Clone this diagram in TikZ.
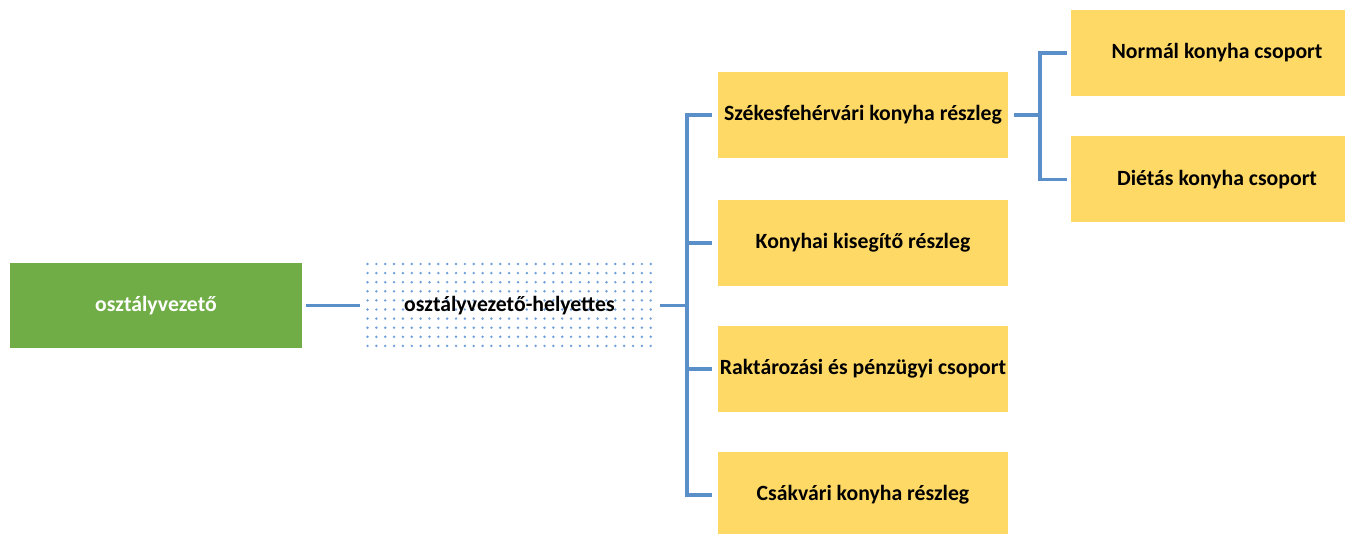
\documentclass[tikz,border=0pt]{standalone}
\usepackage{fontspec}
\setmainfont{Carlito}
\definecolor{boss}{HTML}{70AD47}
\definecolor{unit}{HTML}{FFD966}
\definecolor{wire}{HTML}{5B8FC9}
\definecolor{dotc}{HTML}{6F9FDB}
\tikzset{
  box/.style={rectangle, inner sep=0pt, font=\fontsize{16.3}{18}\selectfont\bfseries},
  headbox/.style={box, fill=boss, text=white, minimum width=219pt, minimum height=63.75pt},
  unitbox/.style={box, fill=unit, text=black, minimum width=217.5pt, minimum height=64.5pt},
  groupbox/.style={box, fill=unit, text=black, minimum width=219pt, minimum height=64.5pt},
  deputybox/.style={box, text=black, minimum width=213.75pt, minimum height=63pt},
  conn/.style={draw=wire, line width=2.6pt},
}
\begin{document}
\begin{tikzpicture}[x=0.75pt, y=-0.75pt]
\useasboundingbox (0,0) rectangle (1345,534);

% dotted backdrop of the deputy box
\begin{scope}
  \clip (365,261) rectangle (654,349);
  \foreach \i in {0,...,32} {
    \foreach \j in {0,...,9} {
      \fill[dotc] (367.5+\i*8.85, 264+\j*9.1) circle (1.35);
    }
  }
\end{scope}

% nodes
\node[headbox]   (g)  at (156,305.5) {osztályvezető};
\node[deputybox] (d)  at (509.5,305.5) {osztályvezető-helyettes};
\node[unitbox]   (s1) at (863,115)   {Székesfehérvári konyha részleg};
\node[unitbox]   (s2) at (863,243)   {Konyhai kisegítő részleg};
\node[unitbox]   (s3) at (863,369)   {Raktározási és pénzügyi csoport};
\node[unitbox]   (s4) at (863,495)   {Csákvári konyha részleg};
\node[groupbox]  (n1) at (1217,53)   {Normál konyha csoport};
\node[groupbox]  (n2) at (1217,179.5) {Diétás konyha csoport};

% connectors
\coordinate (bus) at (687,305.5);
\coordinate (bus2) at (1040,115);
\draw[conn, shorten <=3pt, shorten >=5pt] (g.east) -- (d.west);
\draw[conn, shorten <=6pt] (d.east) -- (bus);
\foreach \t in {s1,s2,s3,s4}
  \draw[conn, shorten >=4.5pt] (bus) |- (\t.west);
\draw[conn, shorten <=4pt] (s1.east) -- (bus2);
\foreach \t in {n1,n2}
  \draw[conn, shorten >=3pt] (bus2) |- (\t.west);
\end{tikzpicture}
\end{document}
